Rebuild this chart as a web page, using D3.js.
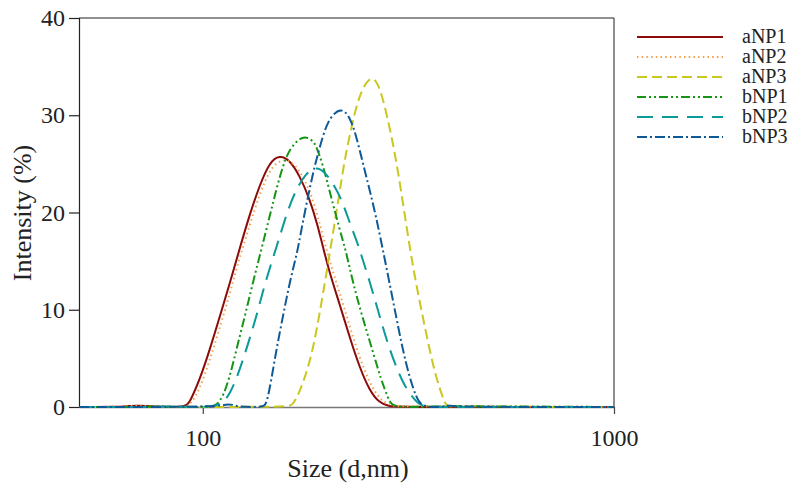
<!DOCTYPE html>
<html><head><meta charset="utf-8">
<script src="https://cdn.jsdelivr.net/npm/d3@7"></script>
<style>
body{margin:0;background:#fff;}
svg text{font-family:"Liberation Serif","Times New Roman",serif;fill:#222;}
</style></head>
<body><svg id="c" width="796" height="493"></svg>
<script>
// ---- data ----
const seriesNames = ["aNP1","aNP2","aNP3","bNP1","bNP2","bNP3"];
const yTicks = [0,10,20,30,40];
const xTicks = [100,1000];
const xTickLabels = ["100","1000"];

const aNP1_size = [50,62,66,70,73,80,88,91.3,93,98.3,104,110,116.3,121.6,130,137.5,145.4,153.8,162.6,172,181.9,190.2,195.6,203.4,215.1,227.5,240.5,254.3,268.9,284.4,300,1000];
const aNP1_int  = [0,0,0.1,0.15,0.1,0,0,0.15,0.5,2.8,5.9,9.3,12.7,15.6,19.8,22.8,25.2,25.9,25.4,23.8,21.4,18.7,16.6,13.8,10.6,7.2,4.1,1.7,0.4,0.05,0,0];

const aNP2_size = [50,62,66,70,73,80,88,91.3,93,98.3,104,110,116.3,121.6,130,137.5,145.4,153.8,162.6,172,181.9,190.2,195.6,203.4,215.1,227.5,240.5,254.3,268.9,284.4,300,320,1000];
const aNP2_int  = [0,0,0.1,0.15,0.1,0,0,0.05,0.2,1.8,4.8,8.2,11.6,14.7,18.7,21.9,24.4,25.4,25.4,24.4,22.3,19.7,17.7,15.0,11.8,8.3,5.1,2.5,0.8,0.2,0.05,0.1,0];

const aNP3_size = [50,160,165,172,182,189,196,205,215,221,230,240.5,256,269,284,295,306,318,330,343,356,369,383,390,400,450,470,490,1000];
const aNP3_int  = [0,0,0.1,1.5,4.5,7.8,11.6,16.6,22.0,25.3,28.9,32.2,34.2,33.2,29.0,25.5,21.3,16.6,12.7,9.2,5.9,3.1,1.0,0.2,0,0,0.15,0,0];

const bNP1_size = [50,76,80,84,105.7,108,112,116.3,120.7,126.5,132.4,138.8,145.4,151,156.6,162.6,175.2,185.3,188.8,195.9,203.4,211.1,219,223.3,231.7,245,259.2,271.4,281.8,287.1,300.8,340,360,1000];
const bNP1_int  = [0,0,0.1,0,0,0.2,1.06,3.1,5.9,9.3,12.8,16.2,19.6,22.4,24.8,26.6,28.0,27.4,26.8,24.9,22.2,19.6,17.1,15.9,12.8,9.1,5.7,2.8,1.0,0.2,0,0,0.1,0];

const bNP2_size = [50,80,85,90,108,114.2,120.7,127.6,135,141.4,149.6,153.8,161.1,168.8,178.5,188.8,197.8,209.1,219,227.5,236.1,240.5,254.3,268.9,284.4,306.4,323.9,336.3,355.6,400,1000];
const bNP2_int  = [0,0,0.1,0,0,0.7,2.8,5.9,9.3,12.6,15.9,17.5,20.3,22.4,24.1,24.7,24.2,22.8,21.0,19.0,17.2,16.2,13.0,9.4,5.9,2.4,1.0,0.2,0,0,0];

const bNP3_size = [50,110,114,118,122,139.8,142.8,146.8,151,156.6,162.6,170.3,172,178.5,185.3,188.8,195.9,203.4,217.1,227.5,236.1,245,254.3,264.1,274,284.4,295.2,306.4,318,330.2,339.5,355.6,380,395,410,1000];
const bNP3_int  = [0,0,0.3,0.25,0,0,0.2,2.8,5.9,9.3,12.8,16.2,17.3,20.8,24.0,25.4,27.9,29.8,30.8,29.9,27.9,25.1,22.4,19.5,16.2,12.8,9.3,5.9,3.1,1.0,0.2,0,0,0.2,0,0];

const sizes = [aNP1_size,aNP2_size,aNP3_size,bNP1_size,bNP2_size,bNP3_size];
const ints  = [aNP1_int,aNP2_int,aNP3_int,bNP1_int,bNP2_int,bNP3_int];

// ---- styles ----
const colors = ["#8b0a0a","#f4a04a","#c8c81e","#149614","#0a9a9a","#0f5a96"];
const dashes = ["none","1.5,3.2","10,5","9,3,2,3,2,3","16,9","10,3,2,3"];

const svg = d3.select("#c");
const L=79,R=614,T=18,B=407;
const x = d3.scaleLog().domain([50,1000]).range([L,R]);
const y = d3.scaleLinear().domain([0,40]).range([B,T]);

// frame top/right
svg.append("line").attr("x1",L).attr("x2",R).attr("y1",T).attr("y2",T).attr("stroke","#222").attr("stroke-width",1.2);
svg.append("line").attr("x1",R).attr("x2",R).attr("y1",T).attr("y2",B).attr("stroke","#444").attr("stroke-width",1.2);

// axes
const ya = svg.append("g").attr("transform",`translate(${L},0)`)
  .call(d3.axisLeft(y).tickValues(yTicks).tickSize(10).tickPadding(4));
ya.select(".domain").attr("stroke","#222").attr("stroke-width",1.2);
ya.selectAll(".tick line").attr("stroke","#222").attr("stroke-width",1.2);
ya.selectAll("text").style("font-size","24px").attr("fill","#222");

const xa = svg.append("g").attr("transform",`translate(0,${B})`)
  .call(d3.axisBottom(x).tickValues(xTicks).tickFormat((d,i)=>xTickLabels[i]).tickSize(7).tickPadding(15).tickSizeOuter(0));
xa.select(".domain").attr("stroke","#777").attr("stroke-width",1.4);
xa.selectAll(".tick line").attr("stroke","#444").attr("stroke-width",1.2);
xa.selectAll("text").style("font-size","24px").attr("fill","#222");

// titles
svg.append("text").attr("x",348).attr("y",477).attr("text-anchor","middle").style("font-size","26px").text("Size (d,nm)");
svg.append("text").attr("transform","translate(31,213) rotate(-90)").attr("text-anchor","middle").style("font-size","26px").text("Intensity (%)");

// lines
const line = d3.line().x(d=>x(d[0])).y(d=>y(d[1])).curve(d3.curveBasis);
svg.append("clipPath").attr("id","pc").append("rect").attr("x",L).attr("y",T-2).attr("width",R-L).attr("height",B-T+3);
seriesNames.forEach((n,i)=>{
  const pts = sizes[i].map((s,j)=>[s,ints[i][j]]);
  svg.append("path").attr("d",line(pts)).attr("fill","none")
    .attr("stroke",colors[i]).attr("stroke-width",2)
    .attr("stroke-dasharray",dashes[i]).attr("clip-path","url(#pc)");
});

// legend
const lg = svg.append("g");
seriesNames.forEach((n,i)=>{
  const yy = 37 + i*20;
  lg.append("line").attr("x1",637).attr("x2",723).attr("y1",yy).attr("y2",yy)
    .attr("stroke",colors[i]).attr("stroke-width",2).attr("stroke-dasharray",dashes[i]);
  lg.append("text").attr("x",742).attr("y",yy+6).style("font-size","20px").text(n);
});
</script></body></html>
